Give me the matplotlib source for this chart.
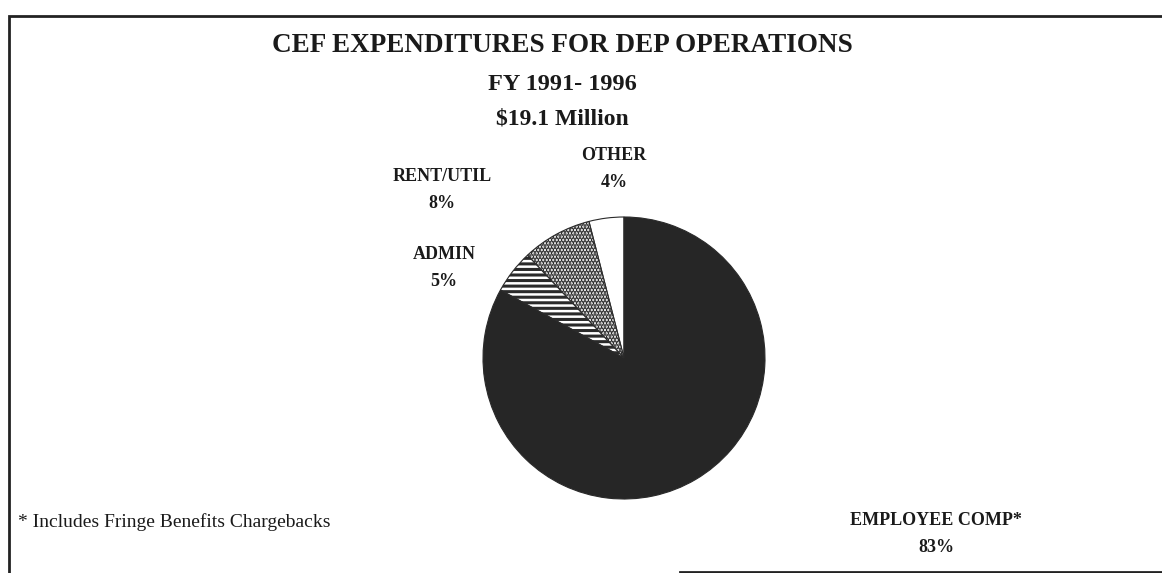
import matplotlib.pyplot as plt

plt.rcParams['font.family'] = ['Liberation Serif', 'DejaVu Serif']
plt.rcParams['hatch.linewidth'] = 2.2

# Expenditure shares, FY 1991-1996 (percent), counter-clockwise from 12 o'clock
categories = ["OTHER", "RENT/UTIL", "ADMIN", "EMPLOYEE COMP*"]
shares = [4, 8, 5, 83]
face_colors = ["white", "white", "white", "#262626"]
hatches = ["", ".....", "---", ""]

W, H = 1162, 573
fig = plt.figure(figsize=(W / 100, H / 100), dpi=100)
ax = fig.add_axes([0, 0, 1, 1])

wedges, _ = ax.pie(shares, startangle=90, counterclock=True,
                   center=(624, H - 358), radius=141,
                   colors=face_colors,
                   wedgeprops=dict(edgecolor="#2a2a2a", linewidth=0.8))
for w, h in zip(wedges, hatches):
    w.set_hatch(h)

ax.set_xlim(0, W)
ax.set_ylim(0, H)
ax.set_aspect('equal')
ax.axis('off')

# page frame
ax.plot([9, 9, W], [0, H - 16, H - 16], color="#222222", lw=2.0, solid_joinstyle='miter')
ax.plot([680, W], [1.5, 1.5], color="#222222", lw=2.0)

# titles
title_lines = ["CEF EXPENDITURES FOR DEP OPERATIONS", "FY 1991- 1996", "$19.1 Million"]
title_y = [46, 84, 119]
title_size = [19.5, 17.5, 17]
for txt, y, s in zip(title_lines, title_y, title_size):
    ax.text(562, H - y, txt, ha='center', va='center', fontsize=s,
            fontweight='bold', color="#1a1a1a")

# slice labels
label_pos = [(614, 169), (442, 190), (444, 268), (936, 534)]
for name, pct, (x, y) in zip(categories, shares, label_pos):
    ax.text(x, H - y, f"{name}\n{pct}%", ha='center', va='center',
            fontsize=13, fontweight='bold', color="#1a1a1a", linespacing=1.75)

ax.text(18, H - 522, "* Includes Fringe Benefits Chargebacks", ha='left',
        va='center', fontsize=14, color="#1a1a1a")

fig.savefig("out.png", dpi=100)
